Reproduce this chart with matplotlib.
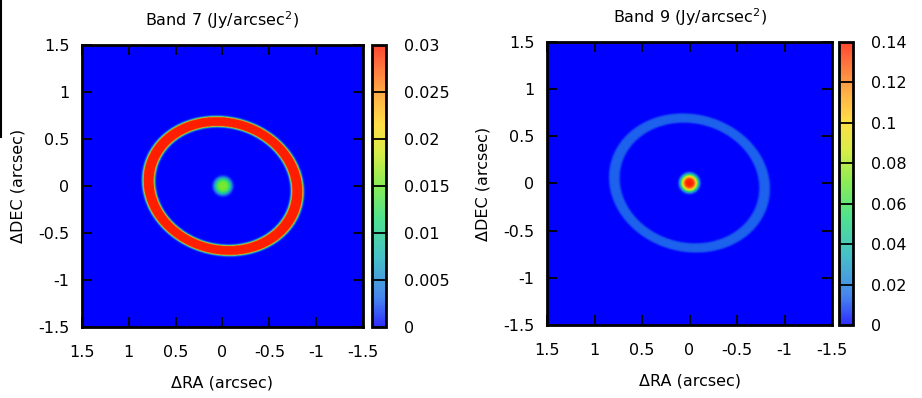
import matplotlib
matplotlib.use("Agg")
import matplotlib.pyplot as plt
import numpy as np
from matplotlib.colors import LinearSegmentedColormap
from matplotlib.lines import Line2D

plt.rcParams['font.family'] = ['DejaVu Sans']
plt.rcParams['mathtext.fontset'] = 'dejavusans'

# model parameters
bands = ["Band 7", "Band 9"]
ring_flux = [0.045, 0.0135]      # Jy/arcsec^2 (band 7 ring saturates the scale)
core_flux = [0.0155, 0.14]
vmax = [0.03, 0.14]
cbar_ticks = [[0, 0.005, 0.01, 0.015, 0.02, 0.025, 0.03],
              [0, 0.02, 0.04, 0.06, 0.08, 0.1, 0.12, 0.14]]
cbar_labels = [["0", "0.005", "0.01", "0.015", "0.02", "0.025", "0.03"],
               ["0", "0.02", "0.04", "0.06", "0.08", "0.1", "0.12", "0.14"]]
ring_radius = 0.80    # arcsec
ring_width = 0.115    # arcsec
incl = 32.0           # deg
pa = 75.0             # deg, east of north
core_r0 = 0.09        # arcsec
ax_ticks = [1.5, 1, 0.5, 0, -0.5, -1, -1.5]
ax_labels = ["1.5", "1", "0.5", "0", "-0.5", "-1", "-1.5"]

# gnuplot-like palette
pal = [(0.00, (0, 0, 255)), (0.10, (30, 105, 235)), (0.25, (30, 180, 185)),
       (0.38, (40, 220, 120)), (0.50, (110, 232, 50)), (0.62, (210, 232, 30)),
       (0.72, (255, 215, 30)), (0.82, (255, 160, 30)), (0.92, (255, 90, 20)),
       (1.00, (255, 30, 0))]
cmap = LinearSegmentedColormap.from_list(
    "gp", [(p, tuple(c / 255 for c in col)) for p, col in pal])

# sky grid
n = 480
ra = np.linspace(1.5, -1.5, n)
dec = np.linspace(1.5, -1.5, n)
RA, DEC = np.meshgrid(ra, dec)
t = np.radians(pa)
u = RA * np.sin(t) + DEC * np.cos(t)       # along major axis
v = -RA * np.cos(t) + DEC * np.sin(t)      # along minor axis
r = np.sqrt(u**2 + (v / np.cos(np.radians(incl)))**2)
s = 0.006
ring = 1 / (1 + np.exp(-(r - (ring_radius - ring_width / 2)) / s)) \
    - 1 / (1 + np.exp(-(r - (ring_radius + ring_width / 2)) / s))
rc = np.sqrt(RA**2 + DEC**2)
core = np.exp(-(rc / core_r0)**4)

fig = plt.figure(figsize=(9.22, 3.98), dpi=100)
ax_pos = [[0.0889, 0.1784, 0.3048, 0.7085], [0.5933, 0.1834, 0.3091, 0.7111]]
cb_pos = [[0.4035, 0.1784, 0.0152, 0.7085], [0.9100, 0.1834, 0.0152, 0.7111]]
fs = 11.5

for k in range(2):
    img = ring_flux[k] * ring + core_flux[k] * core
    ax = fig.add_axes(ax_pos[k])
    im = ax.imshow(img, extent=[1.5, -1.5, -1.5, 1.5], origin='upper',
                   cmap=cmap, vmin=0, vmax=vmax[k], interpolation='bilinear',
                   aspect='auto')
    ax.set_xlim(1.5, -1.5)
    ax.set_ylim(-1.5, 1.5)
    ax.set_xticks(ax_ticks)
    ax.set_xticklabels(ax_labels)
    ax.set_yticks(ax_ticks[::-1])
    ax.set_yticklabels(ax_labels[::-1])
    ax.tick_params(direction='in', top=True, right=True, length=7, width=1.3,
                   labelsize=fs)
    ax.tick_params(axis='x', pad=13)
    ax.tick_params(axis='y', pad=9)
    for sp in ax.spines.values():
        sp.set_linewidth(2.0)
    ax.set_xlabel("ΔRA (arcsec)", fontsize=fs, labelpad=11)
    ax.set_ylabel("ΔDEC (arcsec)", fontsize=fs, labelpad=9)
    ax.set_title(bands[k] + " (Jy/arcsec$^2$)", fontsize=fs, pad=14)

    cax = fig.add_axes(cb_pos[k])
    cb = fig.colorbar(im, cax=cax, ticks=cbar_ticks[k])
    cb.solids.set_alpha(0.82)
    cb.ax.set_yticklabels(cbar_labels[k])
    cb.ax.tick_params(length=0, labelsize=fs, pad=13)
    cb.outline.set_linewidth(2.0)
    for tv in cbar_ticks[k][1:-1]:
        cb.ax.axhline(tv, color='black', lw=1.3)

# stray border line at the left edge of the original figure
fig.add_artist(Line2D([0.001, 0.001], [1.0, 1 - 137 / 398], color='black',
                      lw=1.5, transform=fig.transFigure))

fig.savefig("out.png", dpi=100)
